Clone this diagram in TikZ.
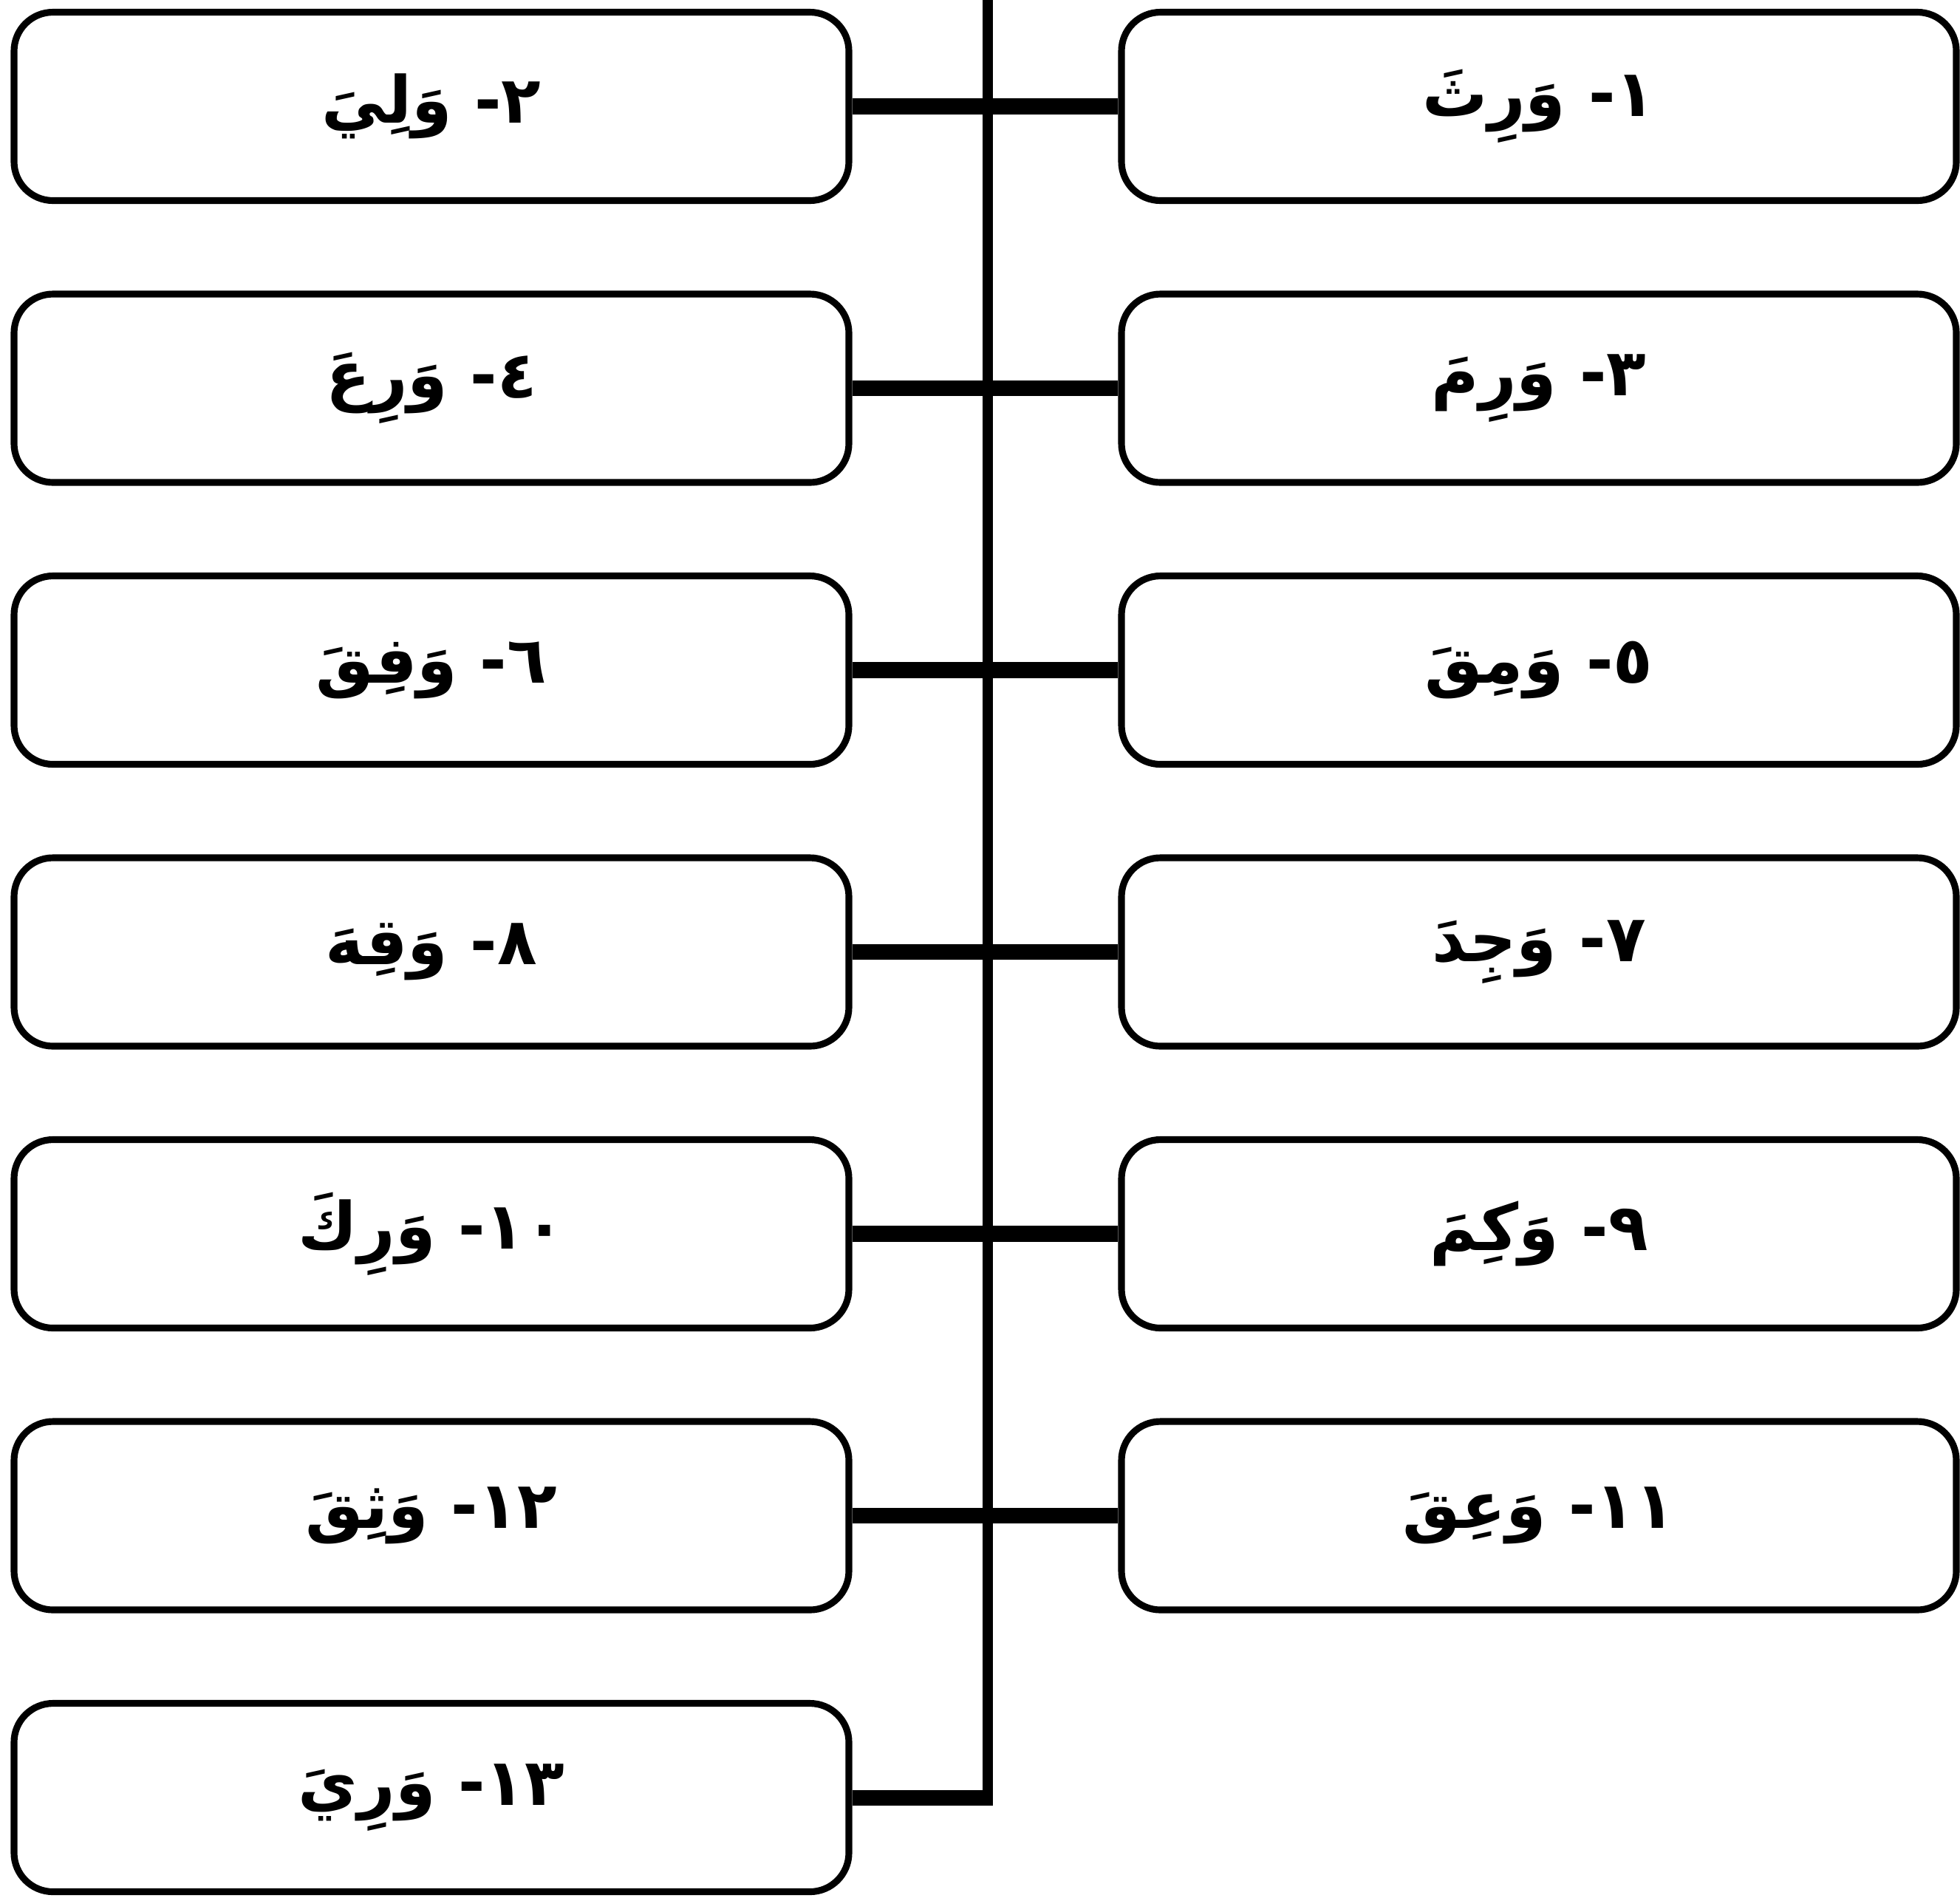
\documentclass[tikz,border=0pt]{standalone}
\usepackage{fontspec}
\newfontfamily\arabicfont[Script=Arabic]{DejaVu Sans}
\TeXXeTstate=1
\usetikzlibrary{positioning}
\tikzset{
  verbbox/.style={rectangle, rounded corners=15pt, draw=black, line width=2.6pt,
                  fill=white, minimum width=11.3cm, minimum height=2.55cm,
                  font=\arabicfont\bfseries\fontsize{25}{30}\selectfont},
  trunk/.style={line width=3.8pt, draw=black},
  branch/.style={line width=6pt, draw=black},
}
\newcommand{\verblabel}[2]{\beginR\beginL#1\endL- #2\endR}

\begin{document}
\begin{tikzpicture}
  \useasboundingbox (0,0) rectangle (26.53,-25.68);
  % pairs of boxes, left and right of the trunk
  \foreach \row/\lnum/\lword/\rnum/\rword in {1/٢/وَلِيَ/١/وَرِثَ, 2/٤/وَرِعَ/٣/وَرِمَ,
      3/٦/وَفِقَ/٥/وَمِقَ, 4/٨/وَقِهَ/٧/وَجِدَ, 5/١٠/وَرِكَ/٩/وَكِمَ, 6/١٢/وَثِقَ/١١/وَعِقَ} {
    \node[verbbox] (L\row) at (5.84,{-1.44-3.815*(\row-1)}) {\verblabel{\lnum}{\lword}};
    \node[verbbox] (R\row) at (20.83,{-1.44-3.815*(\row-1)}) {\verblabel{\rnum}{\rword}};
    \draw[branch] (L\row.east) -- (R\row.west);
  }
  \node[verbbox] (L7) at (5.84,-24.33) {\verblabel{١٣}{وَرِيَ}};
  % the trunk
  \coordinate (trunktop) at (13.37,0);
  \coordinate (trunkend) at (L7.east -| trunktop);
  \draw[trunk] (trunktop) -- ([yshift=-3pt]trunkend);
  \draw[branch] (L7.east) -- ([xshift=1.9pt]trunkend);
\end{tikzpicture}
\end{document}
